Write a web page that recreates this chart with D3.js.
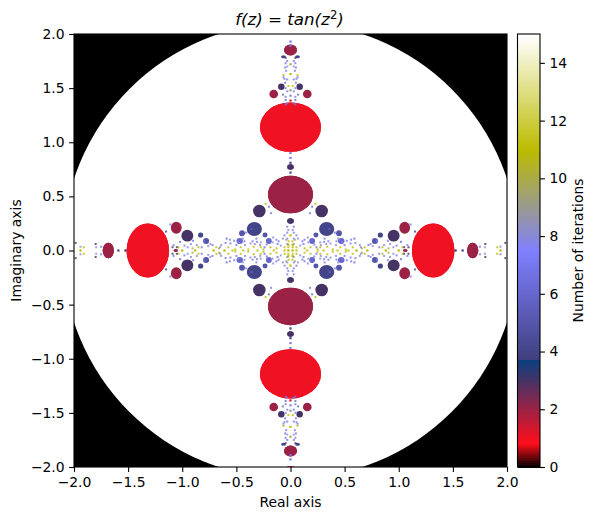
<!DOCTYPE html>
<html><head><meta charset="utf-8">
<script src="https://cdn.jsdelivr.net/npm/d3@7"></script>
<style>
html,body{margin:0;padding:0;background:#fff}
svg{display:block}
text{font-family:"DejaVu Sans",sans-serif;fill:#000}
</style></head><body><div id="c"></div>
<script>
// Axis ticks
const axisTicks=[-2,-1.5,-1,-0.5,0,0.5,1,1.5,2];
const cbarTicks=[0,2,4,6,8,10,12,14];
const maxIter=15;
const escapeRadius=2.107;
// gist_stern colormap knots
const redPos=[0,0.0547,0.25,0.25,1], redVal=[0,1,0.027,0.25,1];
const greenPos=[0,1], greenVal=[0,1];
const bluePos=[0,0.5,0.735,1], blueVal=[0,1,0,1];
// Basins, first quadrant (mirrored on both axes)
const blobX=[0,0,1.318,1.683,1.055,0.953,0,0.155,0.085,0,0.288,0,0.334,0.448,0.235,0.469,0.2,0.83,0.78,0.065,1.06];
const blobY=[1.14,0.517,0,0,0.21,0.137,1.852,1.446,1.513,0.771,0.365,0.272,0.199,0.159,0.143,0.088,0.088,0.143,0.088,1.79,0];
const blobRx=[0.282,0.208,0.196,0.052,0.05,0.055,0.06,0.04,0.03,0.03,0.058,0.03,0.07,0.027,0.023,0.03,0.027,0.024,0.028,0.022,0.02];
const blobRy=[0.228,0.174,0.249,0.071,0.055,0.055,0.05,0.04,0.03,0.025,0.058,0.025,0.065,0.027,0.023,0.028,0.027,0.024,0.028,0.014,0.012];
const blobIter=[1,2,1,2,2,3,2,2,3,3,3,3,4,5,5,6,6,4,5,4,2];
// Small specks, first quadrant (mirrored on both axes)
const speckX=[0.02,0.02,0.02,0.055,0.055,0.13,0.155,0.185,0.25,0.275,0.305,0.34,0.39,0.435,0.46,0.51,0.535,0.575,0.61,0.66,0.71,0.685,0.88,0.85,0.905,1.0,1.035,1.94,1.91,
 0.09,0.11,0.165,0.22,0.275,0.315,0.37,0.425,0.48,0.555,0.59,0.64,0.74,0.8,0.92,0.98,1.02,0.865,
 0.35,0.41,0.18,0.2,0.23,0.36,
 1.59,1.525,1.15,1.11,1.8,1.75,1.795,1.94,1.985,1.05,1.09,
 0,0,0.045,0.045,0.0,0.0,0.05,0.065,0.05,0.065,0,0.045,0.045,0.045,0.045,0,0,0.03,0,0,0,0,
 0.03,0.03,0,0.03,0.018,0.055,0.02,
 0.12,0.13,0.16,0.28,0.31,0.33,0.5,0.52,0.42,0.6,0.65,0.72,0.76,0.82,0.9,0.95,1.08,0.04,0.07,0.24,0.44,0.56,
 0.03,0.03,0.04,0.03,0.055,0.02,0.03,0.07,0.02,0.03];
const speckY=[0,0.03,0.055,0,0.03,0.02,0,0.03,0.01,0.03,0,0.035,0.01,0,0.03,0.01,0,0.03,0,0.02,0,0.03,0,0.03,0.02,0,0.03,0,0.03,
 0.045,0.085,0.075,0.055,0.075,0.11,0.065,0.085,0.075,0.065,0.11,0.05,0.06,0.085,0.06,0.045,0.08,0.05,
 0.085,0.165,0.345,0.405,0.43,0.2,
 0,0,0.175,0.24,0.06,0.035,0.03,0.035,0.07,0.03,0.03,
 1.93,1.89,1.78,1.73,1.72,1.63,1.69,1.62,1.55,1.6,1.48,1.5,1.42,1.39,1.35,1.43,1.385,1.36,0.9,0.855,0.81,0.72,
 0.22,0.165,0.14,0.11,0.085,0.14,0.05,
 0.06,0.1,0.12,0.05,0.08,0.06,0.05,0.09,0.05,0.07,0.03,0.05,0.04,0.03,0.09,0.03,0.05,0.1,0.11,0.03,0.11,0.1,
 1.75,1.7,1.66,1.58,1.585,1.52,1.47,1.44,0.19,0.06];
const speckIter=[11,11,11,12,11,11,12,11,11,11,12,11,11,12,11,11,12,11,11,10,11,11,11,11,10,11,11,11,11,
 8,7,8,7,8,7,8,7,8,7,6,8,8,7,8,7,6,8,
 7,7,7,6,11,6,
 4,3,4,7,3,7,8,8,3,3,3,
 7,7,3,7,10,11,7,11,7,7,9,7,7,6,7,8,1,7,7,7,4,4,
 7,7,11,8,11,7,11,
 7,7,8,8,7,8,7,7,8,7,8,7,8,7,7,8,7,9,8,7,8,7,
 7,8,7,7,8,11,7,6,8,9];
// Edge sliver at the bottom of the frame (not mirrored)
const sliverX=[0]; const sliverY=[-2.02]; const sliverRx=[0.05]; const sliverRy=[0.03]; const sliverIter=[1];
const xLabel="Real axis", yLabel="Imaginary axis", cbarLabel="Number of iterations";

const W=596,H=521;
const left=74,right=507,top_=34,bottom=467,cbL=517.5,cbR=540;
const fs=13.9;
const svg=d3.select("#c").append("svg").attr("width",W).attr("height",H).attr("viewBox",`0 0 ${W} ${H}`);
const x=d3.scaleLinear().domain([-2,2]).range([left,right]);
const y=d3.scaleLinear().domain([-2,2]).range([bottom,top_]);
const r=d3.scaleLinear().domain([0,maxIter]).range([0,1]);
const red=d3.scaleLinear().domain(redPos).range(redVal);
const green=d3.scaleLinear().domain(greenPos).range(greenVal);
const blue=d3.scaleLinear().domain(bluePos).range(blueVal);
const color=v=>{const t=r(v);return d3.rgb(255*red(t),255*green(t),255*blue(t)).formatHex();};
const u=Math.abs(x(1)-x(0));

svg.append("clipPath").attr("id","frame").append("rect").attr("x",left).attr("y",top_).attr("width",right-left).attr("height",bottom-top_);
const g=svg.append("g").attr("clip-path","url(#frame)");
g.append("rect").attr("x",left).attr("y",top_).attr("width",right-left).attr("height",bottom-top_).attr("fill",color(0));
g.append("circle").attr("cx",x(0)).attr("cy",y(0)).attr("r",escapeRadius*u).attr("fill",color(maxIter));

const signs=[[1,1],[-1,1],[1,-1],[-1,-1]];
const blobs=[];blobX.forEach((bx,i)=>signs.forEach(s=>blobs.push({x:s[0]*bx,y:s[1]*blobY[i],rx:blobRx[i],ry:blobRy[i],v:blobIter[i]})));
blobs.sort((a,b)=>b.rx-a.rx);
g.selectAll("ellipse.b").data(blobs).join("ellipse").attr("class","b")
 .attr("cx",d=>x(d.x)).attr("cy",d=>y(d.y)).attr("rx",d=>d.rx*u).attr("ry",d=>d.ry*u).attr("fill",d=>color(d.v));
const specks=[];speckX.forEach((sx,i)=>signs.forEach(s=>specks.push({x:s[0]*sx,y:s[1]*speckY[i],v:speckIter[i]})));
g.selectAll("rect.s").data(specks).join("rect").attr("class","s")
 .attr("x",d=>x(d.x)-1).attr("y",d=>y(d.y)-1).attr("width",2).attr("height",2).attr("fill",d=>color(d.v)).attr("opacity",0.8);
g.selectAll("ellipse.e").data(sliverX).join("ellipse").attr("class","e")
 .attr("cx",d=>x(d)).attr("cy",(d,i)=>y(sliverY[i])).attr("rx",(d,i)=>sliverRx[i]*u).attr("ry",(d,i)=>sliverRy[i]*u).attr("fill",(d,i)=>color(sliverIter[i]));

const fmt=d=>d3.format(".1f")(d).replace("-","\u2212");
function style(a){a.select(".domain").remove();a.selectAll("line").attr("stroke","#000").attr("stroke-width",1.1);a.selectAll("text").attr("font-size",fs).attr("fill","#000");}
const ax=svg.append("g").attr("transform",`translate(0,${bottom})`).call(d3.axisBottom(x).tickValues(axisTicks).tickFormat(fmt).tickSize(4.9).tickPadding(5));style(ax);
const ay=svg.append("g").attr("transform",`translate(${left},0)`).call(d3.axisLeft(y).tickValues(axisTicks).tickFormat(fmt).tickSize(4.9).tickPadding(4.5));style(ay);
svg.append("rect").attr("x",left).attr("y",top_).attr("width",right-left).attr("height",bottom-top_).attr("fill","none").attr("stroke","#000").attr("stroke-width",1.1);

svg.append("text").attr("x",(left+right)/2).attr("y",507).attr("text-anchor","middle").attr("font-size",fs).text(xLabel);
svg.append("text").attr("transform",`translate(20.5,${(top_+bottom)/2}) rotate(-90)`).attr("text-anchor","middle").attr("font-size",fs).text(yLabel);

const t=svg.append("text").attr("x",(left+right)/2-1).attr("y",25).attr("text-anchor","middle").attr("font-size",16.67);
t.append("tspan").attr("font-style","italic").text("f(z)");
t.append("tspan").text(" = ");
t.append("tspan").attr("font-style","italic").text("tan(z");
t.append("tspan").attr("font-size",11.7).attr("dy",-6).text("2");
t.append("tspan").attr("dy",6).attr("font-style","italic").text(")");

// Colorbar
const cy=d3.scaleLinear().domain([0,maxIter]).range([bottom,top_]);
const levels=d3.range(256);
svg.append("g").attr("shape-rendering","crispEdges").selectAll("rect").data(levels).join("rect")
 .attr("x",cbL).attr("width",cbR-cbL)
 .attr("y",d=>cy((d+1)/256*maxIter)).attr("height",d=>cy(d/256*maxIter)-cy((d+1)/256*maxIter)+1)
 .attr("fill",d=>color(d/255*maxIter));
const ac=svg.append("g").attr("transform",`translate(${cbR},0)`).call(d3.axisRight(cy).tickValues(cbarTicks).tickFormat(d3.format("d")).tickSize(4.9).tickPadding(4.5));style(ac);
svg.append("rect").attr("x",cbL).attr("y",top_).attr("width",cbR-cbL).attr("height",bottom-top_).attr("fill","none").attr("stroke","#000").attr("stroke-width",1.1);
svg.append("text").attr("transform",`translate(582.5,${(top_+bottom)/2}) rotate(-90)`).attr("text-anchor","middle").attr("font-size",fs).text(cbarLabel);
</script></body></html>
